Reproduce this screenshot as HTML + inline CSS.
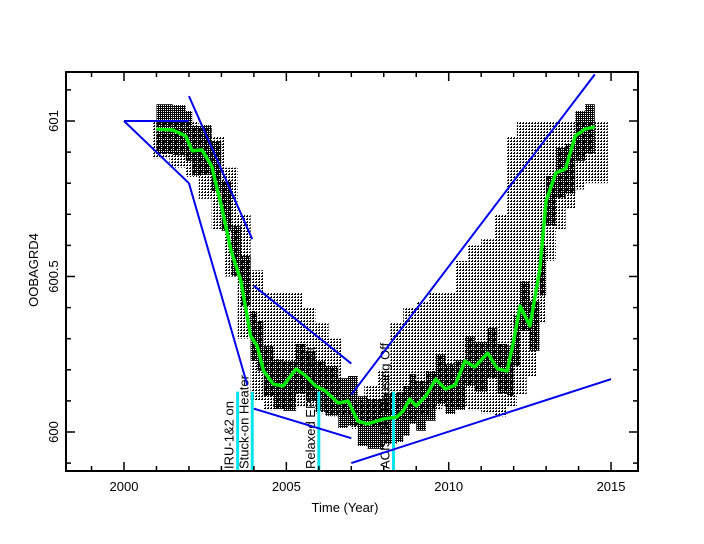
<!DOCTYPE html>
<html><head><meta charset="utf-8"><style>
body{margin:0;background:#fff}
svg{display:block;font-family:"Liberation Sans",sans-serif}
</style></head><body>
<svg id="chart" width="704" height="544" viewBox="0 0 704 544">
<defs>
<pattern id="sparse" width="3" height="3" patternUnits="userSpaceOnUse"><rect width="2" height="1" fill="#000"/><rect x="1" y="2" width="1" height="1" fill="#000"/></pattern>
<pattern id="dense" width="2" height="2" patternUnits="userSpaceOnUse"><rect width="2" height="1" fill="#000"/><rect x="0" y="1" width="1" height="1" fill="#000"/></pattern>
</defs>
<g id="scatter"></g>
<g id="events"></g>
<g id="trends"></g>
<g id="smooth"></g>
<g id="axes"></g>
</svg>
<script>
const bandYears=[2000.9,2001.4,2001.9,2002.3,2002.7,2003.1,2003.5,2003.9,2004.3,2004.7,2005.1,2005.5,2005.9,2006.3,2006.7,2007.0,2007.4,2007.8,2008.2,2008.6,2009.0,2009.4,2009.8,2010.2,2010.6,2011.0,2011.4,2011.8,2012.1,2012.4,2012.7,2013.0,2013.3,2013.6,2013.9,2014.2,2014.5,2014.9];
const bandLo=[600.88,600.85,600.82,600.75,600.65,600.50,600.30,600.10,600.07,600.07,600.08,600.08,600.06,600.05,600.05,600.01,600.01,600.02,600.03,600.04,600.05,600.07,600.08,600.08,600.07,600.06,600.05,600.08,600.12,600.18,600.35,600.55,600.65,600.72,600.78,600.80,600.80];
const bandHi=[601.0,601.0,601.0,600.98,600.95,600.85,600.70,600.52,600.45,600.45,600.45,600.40,600.35,600.30,600.12,600.10,600.15,600.20,600.35,600.40,600.42,600.45,600.45,600.55,600.60,600.62,600.70,600.95,601.0,601.0,601.0,601.0,601.0,601.0,601.0,601.0,601.0];
const greenX=[2001.0,2001.5,2001.9,2002.1,2002.4,2002.7,2003.0,2003.3,2003.6,2003.9,2004.1,2004.3,2004.6,2004.9,2005.3,2005.6,2005.9,2006.2,2006.6,2006.9,2007.2,2007.5,2008.0,2008.4,2008.6,2008.8,2009.0,2009.3,2009.6,2009.9,2010.2,2010.5,2010.8,2011.2,2011.5,2011.8,2012.0,2012.2,2012.5,2012.8,2013.0,2013.3,2013.6,2013.9,2014.2,2014.5];
const greenY=[600.974,600.971,600.952,600.904,600.907,600.855,600.727,600.582,600.486,600.309,600.277,600.196,600.154,600.148,600.203,600.180,600.148,600.132,600.093,600.100,600.035,600.026,600.042,600.048,600.068,600.106,600.084,600.116,600.170,600.138,600.151,600.228,600.209,600.254,600.203,600.196,600.293,600.405,600.341,600.518,600.743,600.833,600.846,600.952,600.974,600.981];
const trendX1=[2000.0,2000.0,2002.0,2002.0,2004.0,2004.0,2007.0,2007.0];
const trendY1=[601.0,601.0,600.80,601.08,600.47,600.075,600.12,599.9];
const trendX2=[2002.0,2002.0,2003.8,2003.95,2007.0,2007.0,2014.5,2015.0];
const trendY2=[601.0,600.80,600.15,600.62,600.22,599.98,601.15,600.17];
const eventX=[2003.5,2003.95,2006.0,2008.3];
const eventLabels=["IRU-1&2 on","Stuck-on Heater","Relaxed EPHIN Limit","ACIS Det Housing Off"];
const xTicks=[2000,2005,2010,2015];
const yTicks=[600,600.5,601];
const yTickLabels=["600","600.5","601"];

const L=66,R=638,T=72,B=471;
const X=v=>124+(v-2000)*32.47;
const Y=v=>432-(v-600)*311;
const NS="http://www.w3.org/2000/svg";
function mk(tag,parent,attrs){const e=document.createElementNS(NS,tag);for(const k in attrs)e.setAttribute(k,attrs[k]);parent.appendChild(e);return e;}

const sc=document.getElementById('scatter');
for(let i=0;i<bandLo.length;i++){
  const x0=X(bandYears[i]),x1=X(bandYears[i+1]);
  const r=mk('rect',sc,{x:x0,y:Y(bandHi[i]),width:x1-x0,height:Y(bandLo[i])-Y(bandHi[i]),fill:'url(#sparse)'});
  
  
}
for(let i=0;i<greenX.length-1;i++){
  const x0=X(greenX[i]),x1=X(greenX[i+1]);
  const c=mk('rect',sc,{x:x0,y:Y(greenY[i]+0.08),width:x1-x0,height:0.16*311,fill:'url(#dense)'});
  
  
}

const ev=document.getElementById('events');
eventX.forEach((v,i)=>{
  const l=mk('line',ev,{x1:X(v),x2:X(v),y1:Y(600.13),y2:B,stroke:'#00e5ee','stroke-width':3});
  
  
  const t=mk('text',ev,{x:0,y:0,transform:`translate(${X(v)-4},${B-2}) rotate(-90)`,'font-size':13,fill:'#000'});
  t.textContent=eventLabels[i];
  
  
});

const tr=document.getElementById('trends');
for(let i=0;i<trendX1.length;i++){
  const l=mk('line',tr,{x1:X(trendX1[i]),y1:Y(trendY1[i]),x2:X(trendX2[i]),y2:Y(trendY2[i]),stroke:'#0000ee','stroke-width':2});
  
  
}
const cp=mk('clipPath',document.querySelector('defs'),{id:'clip'});
mk('rect',cp,{x:L,y:T,width:R-L,height:B-T});
tr.setAttribute('clip-path','url(#clip)');

const sm=document.getElementById('smooth');
const p=mk('polyline',sm,{points:greenX.map((v,i)=>X(v)+','+Y(greenY[i])).join(' '),fill:'none',stroke:'#00ee00','stroke-width':3.5,'stroke-linejoin':'round'});



const ax=document.getElementById('axes');
mk('rect',ax,{x:L,y:T,width:R-L,height:B-T,fill:'none',stroke:'#000','stroke-width':2});
for(let y=1998;y<=2016;y++){
  const x=X(y);if(x<L||x>R)continue;
  const len=(y%5===0)?9:5;
  mk('line',ax,{x1:x,x2:x,y1:B,y2:B-len,stroke:'#000','stroke-width':1.5});
  mk('line',ax,{x1:x,x2:x,y1:T,y2:T+len,stroke:'#000','stroke-width':1.5});
}
xTicks.forEach(v=>{const t=mk('text',ax,{x:X(v),y:B+20,'text-anchor':'middle','font-size':13});t.textContent=String(v);
  
  });
for(let k=-1;k<=11;k++){
  const v=600+k*0.1,y=Y(v);if(y<T||y>B)continue;
  const len=(k%5===0)?9:5;
  mk('line',ax,{x1:L,x2:L+len,y1:y,y2:y,stroke:'#000','stroke-width':1.5});
  mk('line',ax,{x1:R,x2:R-len,y1:y,y2:y,stroke:'#000','stroke-width':1.5});
}
yTicks.forEach((v,i)=>{const t=mk('text',ax,{x:0,y:0,transform:`translate(58,${Y(v)}) rotate(-90)`,'text-anchor':'middle','font-size':13});t.textContent=yTickLabels[i];
  
  });
const xt=mk('text',ax,{x:345,y:512,'text-anchor':'middle','font-size':13});xt.textContent='Time (Year)';


const yt=mk('text',ax,{x:0,y:0,transform:'translate(38,270) rotate(-90)','text-anchor':'middle','font-size':13});yt.textContent='OOBAGRD4';


</script>
</body></html>
